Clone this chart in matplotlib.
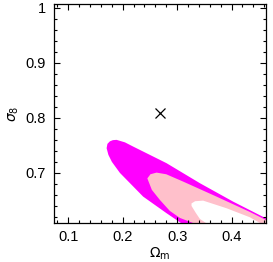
import matplotlib
matplotlib.use("Agg")
import matplotlib.pyplot as plt
from matplotlib.ticker import FixedLocator, MultipleLocator

# outer (magenta) contour outline
outer_x = [0.3233, 0.3068, 0.2806, 0.2376, 0.1949, 0.1802, 0.1738, 0.1705, 0.1720,
           0.1765, 0.1820, 0.1888, 0.2041, 0.2193, 0.2806, 0.3417, 0.4028, 0.4628, 0.4885]
outer_y = [0.5964, 0.6091, 0.6267, 0.6569, 0.7000, 0.7200, 0.7327, 0.7449, 0.7527,
           0.7573, 0.7595, 0.7600, 0.7555, 0.7478, 0.7176, 0.6813, 0.6478, 0.6176, 0.6036]

# inner (pink) contour outline
inner_x = [0.3417, 0.3288, 0.3050, 0.2866, 0.2683, 0.2536, 0.2453, 0.2510, 0.2622,
           0.2800, 0.3110, 0.3723, 0.4334, 0.4628, 0.4794]
inner_y = [0.6000, 0.6091, 0.6182, 0.6309, 0.6509, 0.6691, 0.6900, 0.6975, 0.7005,
           0.6975, 0.6842, 0.6569, 0.6291, 0.6145, 0.6055]

# white hole inside the pink region
hole_x = [0.3563, 0.3527, 0.3417, 0.3343, 0.3264, 0.3264, 0.3330, 0.3477, 0.3906,
          0.4334, 0.4517, 0.4609]
hole_y = [0.6036, 0.6091, 0.6164, 0.6273, 0.6400, 0.6445, 0.6485, 0.6496, 0.6358,
          0.6194, 0.6091, 0.6036]

# fiducial point
fid_om = 0.268
fid_s8 = 0.809

xticks = [0.1, 0.2, 0.3, 0.4]
xtick_labels = ["0.1", "0.2", "0.3", "0.4"]
yticks = [0.7, 0.8, 0.9, 1.0]
ytick_labels = ["0.7", "0.8", "0.9", "1"]

plt.rcParams["font.family"] = ["Liberation Sans", "DejaVu Sans"]

fig = plt.figure(figsize=(2.73, 2.62), dpi=100)
ax = fig.add_axes([0.198, 0.149, 0.776, 0.836])

ax.fill(outer_x, outer_y, color="#ff00ff", lw=0)
ax.fill(inner_x, inner_y, color="#ffc0cb", lw=0)
ax.fill(hole_x, hole_y, color="white", lw=0)
ax.plot(fid_om, fid_s8, marker="x", color="black", ms=7, mew=0.9, ls="none")

ax.set_xlim(0.074, 0.463)
ax.set_ylim(0.609, 1.007)

ax.xaxis.set_major_locator(FixedLocator(xticks))
ax.set_xticklabels(xtick_labels)
ax.yaxis.set_major_locator(FixedLocator(yticks))
ax.set_yticklabels(ytick_labels)
ax.xaxis.set_minor_locator(MultipleLocator(0.02))
ax.yaxis.set_minor_locator(MultipleLocator(0.02))
ax.tick_params(which="both", direction="in", top=True, right=True, labelsize=10.5)
ax.tick_params(axis="y", which="major", pad=6)
ax.tick_params(axis="x", which="major", pad=5)
ax.tick_params(which="major", length=4.5, width=0.8)
ax.tick_params(which="minor", length=2.5, width=0.8)
for s in ax.spines.values():
    s.set_linewidth(0.9)

ax.set_xlabel(r"$\Omega_{\rm m}$", fontsize=10, labelpad=1)
ax.set_ylabel(r"$\sigma_8$", fontsize=10, labelpad=3)

fig.savefig("out.png", dpi=100)
